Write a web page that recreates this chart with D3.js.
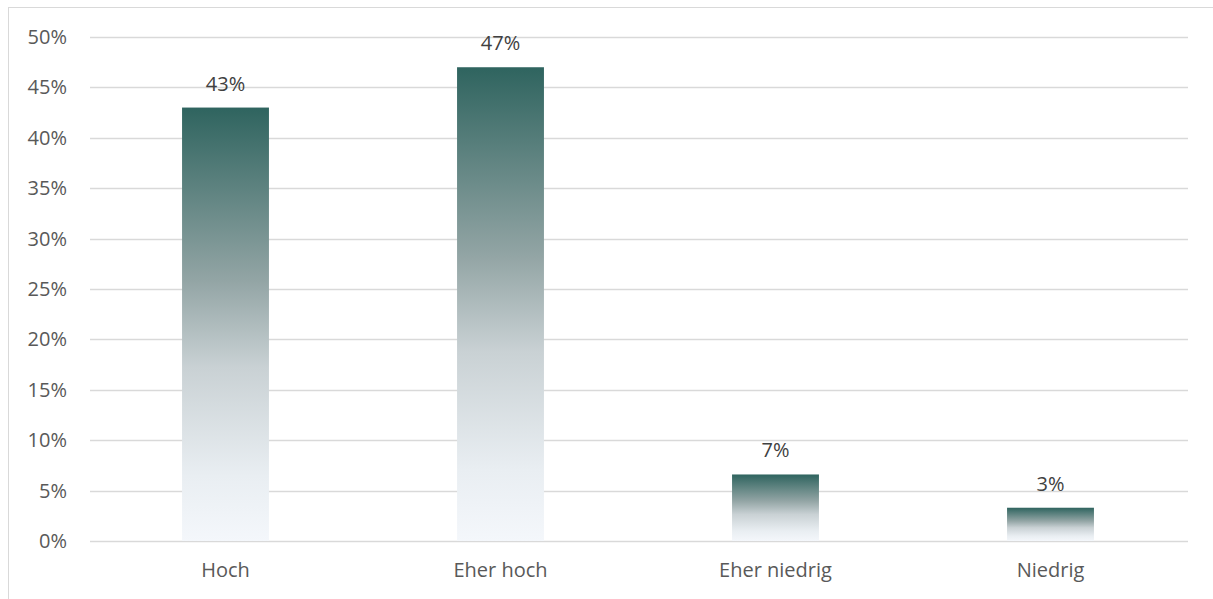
<!DOCTYPE html>
<html>
<head>
<meta charset="utf-8">
<script src="https://cdn.jsdelivr.net/npm/d3@7"></script>
<style>
  body { margin: 0; background: #fff; }
  text { font-family: "Open Sans", "Noto Sans", sans-serif; }
</style>
</head>
<body>
<div id="chart"></div>
<script>
//////////////////
// Data
//////////////////

var categories = ["Hoch", "Eher hoch", "Eher niedrig", "Niedrig"];
var values = [43.0, 47.0, 6.6, 3.3];
var valueLabels = ["43%", "47%", "7%", "3%"];
var yTicks = [0, 5, 10, 15, 20, 25, 30, 35, 40, 45, 50];

//////////////////
// Layout
//////////////////

var width = 1213, height = 599;
var plot = { left: 88, right: 1188, top: 37, bottom: 541 };

var svg = d3.select("#chart").append("svg")
    .attr("width", width)
    .attr("height", height);

// chart frame (runs off the right and bottom edge)
svg.append("rect")
    .attr("x", 8.5).attr("y", 7.5)
    .attr("width", 1220).attr("height", 620)
    .attr("fill", "#fff")
    .attr("stroke", "#d9d9d9")
    .attr("stroke-width", 1);

// gradient for the bars, per bar box
var grad = svg.append("defs").append("linearGradient")
    .attr("id", "barGrad")
    .attr("x1", 0).attr("y1", 0).attr("x2", 0).attr("y2", 1);
[
    [0, "#2f645f"],
    [0.4, "#93a5a5"],
    [0.6, "#c9d1d4"],
    [0.85, "#e9eef2"],
    [1, "#f4f7fb"]
].forEach(function(s) {
    grad.append("stop").attr("offset", s[0]).attr("stop-color", s[1]);
});

var x = d3.scaleBand()
    .domain(categories)
    .range([plot.left, plot.right])
    .paddingInner(0.684)
    .paddingOuter(0.342);

var y = d3.scaleLinear()
    .domain([0, 50])
    .range([plot.bottom, plot.top]);

// gridlines
svg.append("g")
    .selectAll("line")
    .data(yTicks)
    .enter()
    .append("line")
        .attr("x1", plot.left + 2)
        .attr("x2", plot.right)
        .attr("y1", function(d) { return Math.round(y(d)) + 0.5; })
        .attr("y2", function(d) { return Math.round(y(d)) + 0.5; })
        .attr("stroke", "#d9d9d9")
        .attr("stroke-width", 1.3);

// y axis labels
var yAxis = d3.axisLeft(y)
    .tickValues(yTicks)
    .tickSize(0)
    .tickPadding(0)
    .tickFormat(function(d) { return d + "%"; });

svg.append("g")
    .attr("transform", "translate(" + (plot.left - 21) + ",0)")
    .call(yAxis)
    .call(function(g) { g.select(".domain").remove(); })
    .selectAll("text")
        .attr("fill", "#595959")
        .attr("font-size", "20px");

// bars
svg.append("g")
    .selectAll("rect")
    .data(values)
    .enter()
    .append("rect")
        .attr("x", function(d, i) { return x(categories[i]); })
        .attr("width", x.bandwidth())
        .attr("y", function(d) { return y(d); })
        .attr("height", function(d) { return y(0) - y(d); })
        .attr("fill", "url(#barGrad)");

// value labels
svg.append("g")
    .selectAll("text")
    .data(values)
    .enter()
    .append("text")
        .attr("x", function(d, i) { return x(categories[i]) + x.bandwidth() / 2; })
        .attr("y", function(d) { return y(d) - 17; })
        .attr("text-anchor", "middle")
        .attr("fill", "#404040")
        .attr("font-size", "20px")
        .text(function(d, i) { return valueLabels[i]; });

// x axis labels
var xAxis = d3.axisBottom(x).tickSize(0).tickPadding(0);

svg.append("g")
    .attr("transform", "translate(0," + (plot.bottom + 22) + ")")
    .call(xAxis)
    .call(function(g) { g.select(".domain").remove(); })
    .selectAll("text")
        .attr("fill", "#595959")
        .attr("font-size", "20px");
</script>
</body>
</html>
